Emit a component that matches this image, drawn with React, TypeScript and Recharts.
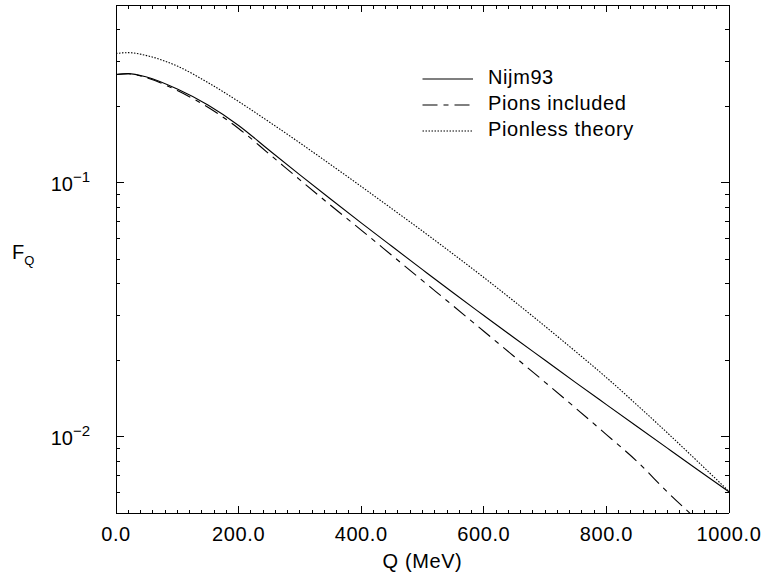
import { Legend, Line, LineChart, XAxis, YAxis } from "recharts";

const FONT = "'Liberation Sans', Arial, Helvetica, sans-serif";

// Q in MeV
const qValues = [0, 20, 50, 100, 150, 200, 250, 300, 350, 400, 450, 500, 550, 600, 650, 700, 750, 800, 850, 900, 950, 1000];

// F_Q
const nijm93 = [0.2661, 0.2685, 0.2602, 0.2333, 0.2019, 0.1678, 0.134, 0.1072, 0.0861, 0.0694, 0.0561, 0.0454, 0.0368, 0.02996, 0.02442, 0.01996, 0.01631, 0.01336, 0.01095, 0.00898, 0.00737, 0.00606];
const pionsIncluded = [0.2661, 0.268, 0.2585, 0.2302, 0.1978, 0.1633, 0.1295, 0.1025, 0.0814, 0.065, 0.0517, 0.0411, 0.0327, 0.02597, 0.02062, 0.01635, 0.01293, 0.01018, 0.00798, 0.00603, 0.00465, 0.00359];
const pionless = [0.3222, 0.3246, 0.316, 0.2873, 0.2475, 0.2084, 0.1732, 0.1432, 0.1177, 0.0965, 0.0789, 0.0644, 0.0523, 0.0423, 0.034, 0.02716, 0.02159, 0.01707, 0.01331, 0.01031, 0.00793, 0.00608];

const xTicks = Array.from({ length: 51 }, (_, i) => i * 20);
const xMajor = [0, 200, 400, 600, 800, 1000];
const yTicks = [0.005, 0.006, 0.007, 0.008, 0.009, 0.01, 0.02, 0.03, 0.04, 0.05, 0.06, 0.07, 0.08, 0.09, 0.1, 0.2, 0.3, 0.4, 0.5];
const yMajor = [0.01, 0.1];
const yLabels: Record<string, string> = { "0.01": "\u22122", "0.1": "\u22121" };

const series = [
  { key: "nijm", name: "Nijm93", dash: undefined as string | undefined },
  { key: "pions", name: "Pions included", dash: "15 6 5 6" },
  { key: "pionless", name: "Pionless theory", dash: "1.5 1.5" },
];

const data = qValues.map((q, i) => ({
  q,
  nijm: nijm93[i],
  pions: pionsIncluded[i],
  pionless: pionless[i],
}));

const isXMajor = (v: number) => xMajor.includes(v);
const isYMajor = (v: number) => yMajor.some((m) => Math.abs(m - v) < 1e-9);

// ticks point into the plot, like the original
const BottomTick = (props: any) => {
  const { x, y, payload } = props;
  const major = isXMajor(payload.value);
  return (
    <g>
      <line x1={x} x2={x} y1={y} y2={y - (major ? 7 : 3.5)} stroke="#000" shapeRendering="crispEdges" />
      {major && (
        <text x={x} y={y + 28} textAnchor="middle" fontSize={20} fontFamily={FONT} fill="#000" style={{ letterSpacing: 0.6 }}>
          {payload.value.toFixed(1)}
        </text>
      )}
    </g>
  );
};

const TopTick = (props: any) => {
  const { x, y, payload } = props;
  const major = isXMajor(payload.value);
  return <line x1={x} x2={x} y1={y} y2={y + (major ? 7 : 4)} stroke="#000" shapeRendering="crispEdges" />;
};

const LeftTick = (props: any) => {
  const { x, y, payload } = props;
  const major = isYMajor(payload.value);
  const sup = yLabels[String(payload.value)];
  return (
    <g>
      <line x1={x} x2={x + (major ? 8 : 4)} y1={y} y2={y} stroke="#000" shapeRendering="crispEdges" />
      {major && (
        <text x={x - 26} y={y + 8} textAnchor="end" fontSize={20} fontFamily={FONT} fill="#000">
          <tspan>10</tspan>
          <tspan dy={-9} fontSize={15}>{sup}</tspan>
        </text>
      )}
    </g>
  );
};

const RightTick = (props: any) => {
  const { x, y, payload } = props;
  const major = isYMajor(payload.value);
  return <line x1={x} x2={x - (major ? 8 : 4.5)} y1={y} y2={y} stroke="#000" shapeRendering="crispEdges" />;
};

const renderLegend = () => (
  <div style={{ fontFamily: FONT, fontSize: 20, letterSpacing: 0.6, color: "#000" }}>
    {series.map((s) => (
      <div key={s.key} style={{ display: "flex", alignItems: "center", height: 26 }}>
        <svg width={66} height={26} style={{ display: "block" }}>
          <line x1={0.5} x2={51} y1={15} y2={15} stroke="#000" strokeWidth={1.1} strokeDasharray={s.dash} />
        </svg>
        <span style={{ lineHeight: "26px", whiteSpace: "nowrap" }}>{s.name}</span>
      </div>
    ))}
  </div>
);

const FqLabel = (props: any) => {
  const { viewBox } = props;
  const cy = viewBox.y + viewBox.height / 2;
  return (
    <text x={12} y={cy} fontSize={20} fontFamily={FONT} fill="#000">
      <tspan>F</tspan>
      <tspan dy={6} fontSize={13}>Q</tspan>
    </text>
  );
};

const QLabel = (props: any) => {
  const { viewBox } = props;
  return (
    <text x={viewBox.x + viewBox.width / 2} y={viewBox.y + 54.5} textAnchor="middle" fontSize={20} fontFamily={FONT} fill="#000" style={{ letterSpacing: 0.6 }}>
      Q (MeV)
    </text>
  );
};

const axisLineStyle = { stroke: "#000", shapeRendering: "crispEdges" } as any;

export default function App() {
  return (
    <div style={{ position: "absolute", left: 0, top: 0, background: "#fff" }}>
      <LineChart width={765} height={573} data={data} margin={{ top: 4, right: 35, bottom: 0, left: 0 }}>
        <XAxis
          xAxisId="bottom"
          dataKey="q"
          type="number"
          domain={[0, 1000]}
          ticks={xTicks}
          interval={0}
          tick={<BottomTick />}
          tickLine={false}
          tickSize={0}
          tickMargin={0}
          height={60}
          axisLine={axisLineStyle}
          label={<QLabel />}
        />
        <XAxis
          xAxisId="top"
          orientation="top"
          dataKey="q"
          type="number"
          domain={[0, 1000]}
          ticks={xTicks}
          interval={0}
          tick={<TopTick />}
          tickLine={false}
          tickSize={0}
          tickMargin={0}
          height={1}
          axisLine={axisLineStyle}
        />
        <YAxis
          yAxisId="left"
          type="number"
          scale="log"
          domain={[0.005, 0.5]}
          allowDataOverflow
          ticks={yTicks}
          interval={0}
          tick={<LeftTick />}
          tickLine={false}
          tickSize={0}
          tickMargin={0}
          width={116}
          axisLine={axisLineStyle}
          label={<FqLabel />}
        />
        <YAxis
          yAxisId="right"
          orientation="right"
          type="number"
          scale="log"
          domain={[0.005, 0.5]}
          allowDataOverflow
          ticks={yTicks}
          interval={0}
          tick={<RightTick />}
          tickLine={false}
          tickSize={0}
          tickMargin={0}
          width={1}
          axisLine={axisLineStyle}
        />
        <Legend
          layout="vertical"
          align="center"
          verticalAlign="middle"
          content={renderLegend}
          wrapperStyle={{ left: 422, top: 64, width: "auto" }}
        />
        {series.map((s) => (
          <Line
            key={s.key}
            xAxisId="bottom"
            yAxisId="left"
            type="monotone"
            dataKey={s.key}
            name={s.name}
            stroke="#000"
            strokeWidth={1.1}
            strokeDasharray={s.dash}
            dot={false}
            activeDot={false}
            isAnimationActive={false}
          />
        ))}
        {/* invisible copy so the top and right mirror axes get a domain */}
        <Line
          xAxisId="top"
          yAxisId="right"
          dataKey="nijm"
          stroke="none"
          dot={false}
          activeDot={false}
          legendType="none"
          isAnimationActive={false}
        />
      </LineChart>
    </div>
  );
}
